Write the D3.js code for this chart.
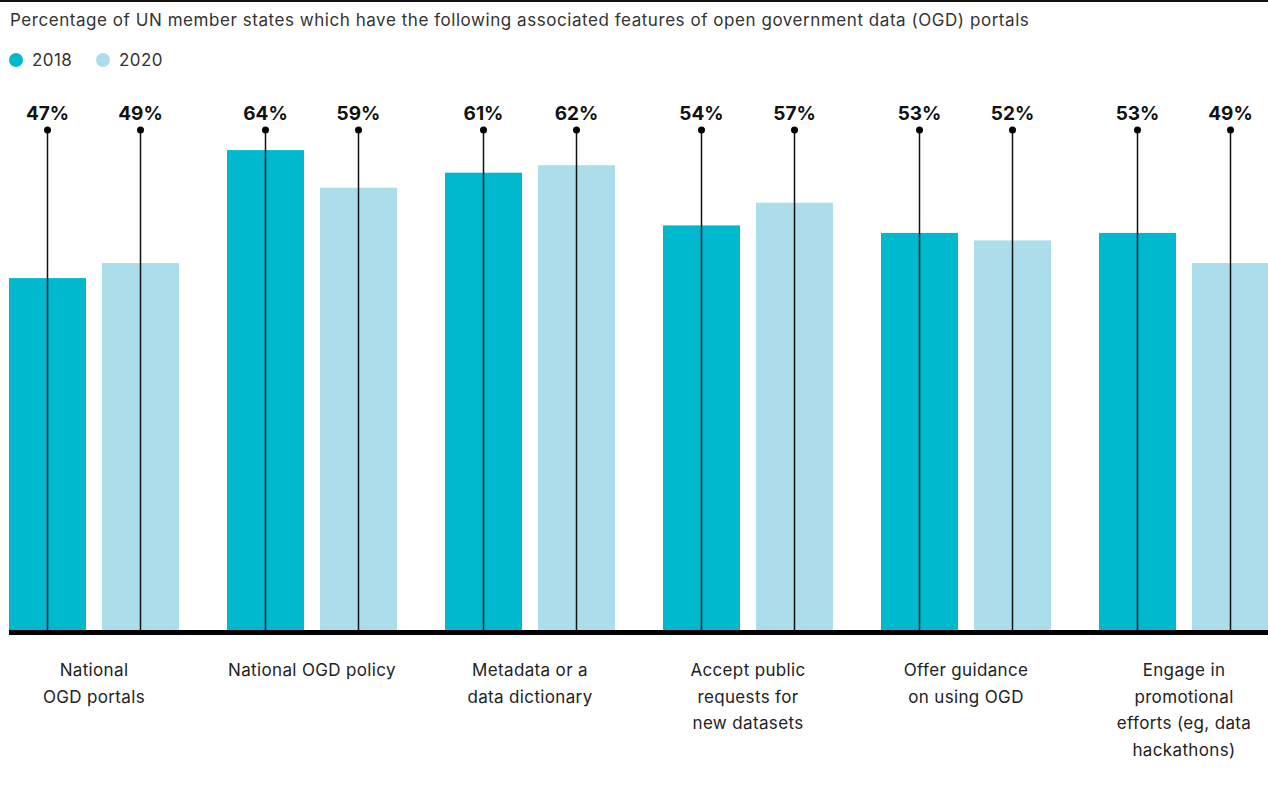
<!DOCTYPE html>
<html><head><meta charset="utf-8">
<script src="https://cdn.jsdelivr.net/npm/d3@7"></script>
<style>
html,body{margin:0;padding:0;background:#fff;}
svg{display:block;font-family:Inter, "Noto Sans", sans-serif;}
</style></head>
<body>
<svg id="chart" width="1268" height="805"></svg>
<script>
const categories = [
  ["National", "OGD portals"],
  ["National OGD policy"],
  ["Metadata or a", "data dictionary"],
  ["Accept public", "requests for", "new datasets"],
  ["Offer guidance", "on using OGD"],
  ["Engage in", "promotional", "efforts (eg, data", "hackathons)"]
];
const seriesNames = ["2018", "2020"];
const values2018 = [47, 64, 61, 54, 53, 53];
const values2020 = [49, 59, 62, 57, 52, 49];
const colors = ["#00b9cf", "#abdeea"];
const title = "Percentage of UN member states which have the following associated features of open government data (OGD) portals";

const svg = d3.select("#chart");
const ids = categories.map((c, i) => i);
const x0 = d3.scaleBand().domain(ids).range([9, 1269]).paddingInner(48/218).paddingOuter(0);
const x1 = d3.scaleBand().domain(seriesNames).range([0, x0.bandwidth()]).paddingInner(16/93).paddingOuter(0);
const y = d3.scaleLinear().domain([0, 100]).range([632, 632 - 753]);
const color = d3.scaleOrdinal().domain(seriesNames).range(colors);

// top rule
svg.append("rect").attr("x", 0).attr("y", 0).attr("width", 1268).attr("height", 2).attr("fill", "#111");

// title
svg.append("text").attr("x", 10).attr("y", 26).attr("font-size", 17).attr("letter-spacing", 0.55)
  .attr("fill", "#333").text(title);

// legend
const leg = svg.append("g");
[[16, 32], [103, 119]].forEach((p, i) => {
  leg.append("circle").attr("cx", p[0]).attr("cy", 60).attr("r", 7).attr("fill", color(seriesNames[i]));
  leg.append("text").attr("x", p[1]).attr("y", 66).attr("font-size", 17).attr("letter-spacing", 0.4)
    .attr("fill", "#333").text(seriesNames[i]);
});

const data = ids.map(i => ({i, vals: [
  {s: "2018", v: values2018[i]},
  {s: "2020", v: values2020[i]}
]}));

const g = svg.append("g").selectAll("g").data(data).join("g")
  .attr("transform", d => `translate(${x0(d.i)},0)`);

g.selectAll("rect").data(d => d.vals).join("rect")
  .attr("x", d => x1(d.s)).attr("y", d => y(d.v))
  .attr("width", x1.bandwidth()).attr("height", d => y(0) - y(d.v))
  .attr("fill", d => color(d.s));

// baseline
svg.append("rect").attr("x", 9).attr("y", 630).attr("width", 1259).attr("height", 5).attr("fill", "#000");

// stems
g.selectAll("line.stem").data(d => d.vals).join("line").attr("class", "stem")
  .attr("x1", d => x1(d.s) + x1.bandwidth()/2).attr("x2", d => x1(d.s) + x1.bandwidth()/2)
  .attr("y1", 130).attr("y2", 632).attr("stroke", "#111").attr("stroke-width", 1.5);
g.selectAll("circle.dot").data(d => d.vals).join("circle").attr("class", "dot")
  .attr("cx", d => x1(d.s) + x1.bandwidth()/2).attr("cy", 130).attr("r", 3.5).attr("fill", "#000");
g.selectAll("text.val").data(d => d.vals).join("text").attr("class", "val")
  .attr("x", d => x1(d.s) + x1.bandwidth()/2).attr("y", 120)
  .attr("text-anchor", "middle").attr("font-size", 19).attr("font-weight", 700).attr("fill", "#111")
  .text(d => d.v + "%");

// category labels
g.append("text").attr("text-anchor", "middle").attr("font-size", 17).attr("letter-spacing", 0.35).attr("fill", "#222")
  .selectAll("tspan").data(d => categories[d.i]).join("tspan")
  .attr("x", x0.bandwidth()/2).attr("y", (d, k) => 676 + k * 26.5).text(d => d);
</script>
</body></html>
